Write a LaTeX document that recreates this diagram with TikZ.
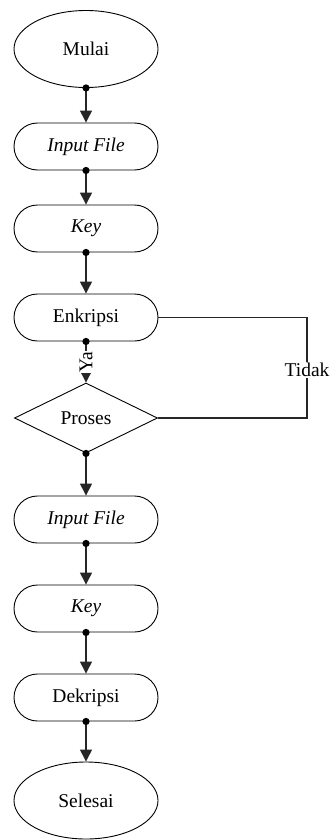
\documentclass[tikz,border=0pt]{standalone}
\usepackage{fontspec}
\setmainfont{Liberation Serif}
\usetikzlibrary{shapes.geometric,arrows.meta}
\tikzset{
  base/.style={draw=black, line width=0.9pt, inner sep=0pt, font=\fontsize{19.5}{23}\selectfont},
  term/.style={base, ellipse, minimum width=144pt, minimum height=77pt},
  proc/.style={base, rectangle, rounded corners=23.5pt, minimum width=144pt, minimum height=47pt},
  decis/.style={base, diamond, shape aspect=2, minimum width=143pt, minimum height=70pt},
  conn/.style={draw=black!85, line width=1.3pt, -{Triangle[length=12pt,width=12pt]}},
  loopline/.style={draw=black!85, line width=1.1pt},
  dot/.style={fill=black},
  lbl/.style={fill=white, inner sep=1pt, font=\fontsize{19.5}{23}\selectfont}
}
\begin{document}
\begin{tikzpicture}[x=1pt,y=-1pt]
\useasboundingbox (0,0) rectangle (332,840);
\node[term] (mulai) at (86,49) {Mulai};
\node[proc] (in1) at (86,146.5) {\textit{Input File}};
\node[proc] (key1) at (86,228.5) {\textit{Key}};
\node[proc] (enk) at (86,317.5) {Enkripsi};
\node[decis] (proses) at (86,418) {Proses};
\node[proc] (in2) at (86,519.5) {\textit{Input File}};
\node[proc] (key2) at (86,608.5) {\textit{Key}};
\node[proc] (dek) at (86,697.5) {Dekripsi};
\node[term] (selesai) at (86,800.5) {Selesai};
\coordinate (c1) at (307,317.5);
\coordinate (c2) at (307,418);

\draw[conn] (mulai.south) -- (in1.north);
\draw[conn] (in1.south) -- (key1.north);
\draw[conn] (key1.south) -- (enk.north);
\draw[conn] (enk.south) -- node[lbl, rotate=90, pos=0.5] (ya) {Ya} (proses.north);
\draw[conn] (proses.south) -- (in2.north);
\draw[conn] (in2.south) -- (key2.north);
\draw[conn] (key2.south) -- (dek.north);
\draw[conn] (dek.south) -- (selesai.north);
\draw[loopline] (enk.east) -- (c1) -- node[lbl, pos=0.52] (tidak) {Tidak} (c2) -- (proses.east);

\foreach \n in {mulai,in1,key1,enk,proses,in2,key2,dek}
  \fill[dot] (\n.south) circle (3.6pt);
\end{tikzpicture}
\end{document}
